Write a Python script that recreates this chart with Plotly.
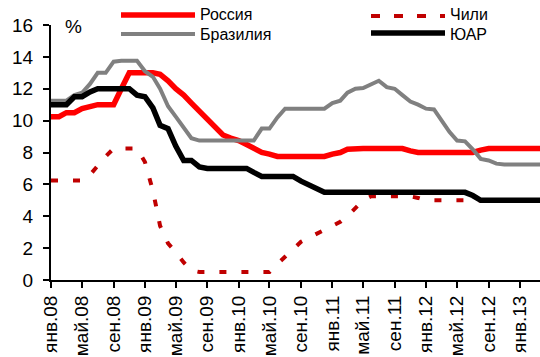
import pandas as pd
import plotly.graph_objects as go

# Monthly policy rates, Jan 2008 - Apr 2013 (%)
months = pd.date_range("2008-01-01", periods=64, freq="MS")

russia = ([10.25, 10.25, 10.5, 10.5, 10.75, 10.9, 11.0, 11.0, 11.0, 12.0]
          + [13.0, 13.0, 13.0, 13.0, 12.9, 12.5, 12.0, 11.6, 11.1, 10.6]
          + [10.0, 9.5, 9.1, 8.9, 8.75, 8.5, 8.25, 8.0, 7.9, 7.75]
          + [7.75] * 6 + [7.9, 8.0, 8.2] + [8.25] * 7 + [8.1]
          + [8.0] * 8 + [8.15] + [8.25] * 8)

chile = ([6.25] * 5 + [6.6, 7.2, 7.75] + [8.25] * 4
         + [7.4, 5.6, 3.4, 2.3, 1.75, 1.1, 0.6] + [0.5] * 10
         + [1.0, 1.45, 1.9, 2.4, 2.65, 2.9, 3.2, 3.4, 3.65, 4.0, 4.5, 5.0]
         + [5.25] * 6 + [5.15] + [5.0] * 16)

brazil = ([11.25, 11.25, 11.25, 11.6, 11.75, 12.3, 13.0, 13.0, 13.7, 13.75]
          + [13.75, 13.75, 13.1, 12.75, 12.0, 10.9, 10.25, 9.6, 8.9]
          + [8.75] * 8 + [9.5, 9.5, 10.2] + [10.75] * 6
          + [11.1, 11.25, 11.75, 12.0, 12.05, 12.25, 12.5, 12.1, 12.0, 11.6,
             11.2, 11.0, 10.75, 10.7, 10.0, 9.3, 8.75, 8.7, 8.2, 7.6, 7.5, 7.3]
          + [7.25] * 6)

south_africa = ([11.0, 11.0, 11.0, 11.5, 11.5, 11.8, 12.0, 12.0, 12.0, 12.0, 12.0]
                + [11.6, 11.5, 10.8, 9.7, 9.5, 8.4, 7.5, 7.5, 7.1]
                + [7.0] * 6 + [6.75] + [6.5] * 5 + [6.2, 6.0, 5.75]
                + [5.5] * 19 + [5.3] + [5.0] * 9)

tick_dates = pd.date_range("2008-01-01", "2013-01-01", freq="4MS")
tick_labels = ["янв.08", "май.08", "сен.08", "янв.09", "май.09", "сен.09",
               "янв.10", "май.10", "сен.10", "янв.11", "май.11", "сен.11",
               "янв.12", "май.12", "сен.12", "янв.13"]

names = ["Россия", "Чили", "Бразилия", "ЮАР"]
series = [russia, chile, brazil, south_africa]
colors = ["#FF0000", "#C00000", "#808080", "#000000"]
widths = [5.5, 4, 4, 5.5]
dashes = ["solid", "7px,15px", "solid", "solid"]

FONT = "Liberation Sans, Arial, sans-serif"
W, H = 540, 357
L, T, B = 51, 25, 77
PW, PH = W - L, H - T - B

fig = go.Figure()
for name, vals, col, w, d in zip(names, series, colors, widths, dashes):
    fig.add_trace(go.Scatter(x=months, y=vals, mode="lines", name=name,
                             line=dict(color=col, width=w, dash=d),
                             showlegend=False))


def px(x, y):
    return (x - L) / PW, (H - B - y) / PH


# Legend: two columns, long line samples
legend_items = [
    (0, 121, 195, 15, 199, 15),   # Россия
    (1, 371, 445, 16, 449, 15),   # Чили
    (2, 121, 195, 34, 199, 34),   # Бразилия
    (3, 371, 445, 33, 449, 34),   # ЮАР
]
shapes = []
annotations = []
for idx, x0, x1, yy, tx, ty in legend_items:
    a0, b0 = px(x0, yy)
    a1, _ = px(x1, yy)
    shapes.append(dict(type="line", xref="paper", yref="paper",
                       x0=a0, x1=a1, y0=b0, y1=b0,
                       line=dict(color=colors[idx], width=widths[idx],
                                 dash="9px,14px" if idx == 1 else "solid")))
    ta, tb = px(tx, ty)
    annotations.append(dict(x=ta, y=tb, xref="paper", yref="paper",
                            text=names[idx], showarrow=False,
                            xanchor="left", yanchor="middle", borderpad=0,
                            font=dict(family=FONT, size=16, color="#000")))

pa, pb = px(73, 27)
annotations.append(dict(x=pa, y=pb, xref="paper", yref="paper", text="%",
                        showarrow=False, xanchor="center", yanchor="middle",
                        font=dict(family=FONT, size=19, color="#000")))

fig.update_layout(
    width=W, height=H,
    margin=dict(l=L, r=0, t=T, b=B, pad=0, autoexpand=False),
    paper_bgcolor="white", plot_bgcolor="white",
    font=dict(family=FONT, color="#000"),
    shapes=shapes, annotations=annotations,
)
fig.update_xaxes(
    type="date", automargin=False,
    range=["2008-01-01", "2013-03-20"],
    tickvals=tick_dates, ticktext=tick_labels,
    tickangle=-90, tickfont=dict(family=FONT, size=19),
    ticks="outside", ticklen=6, tickwidth=1.5, tickcolor="#000",
    showline=True, linecolor="#000", linewidth=2,
    showgrid=False, zeroline=False,
)
fig.update_yaxes(
    automargin=False,
    range=[0, 16], tickvals=list(range(0, 17, 2)),
    tickfont=dict(family=FONT, size=19),
    ticks="outside", ticklen=6, tickwidth=1.5, tickcolor="#000",
    showline=True, linecolor="#000", linewidth=2,
    showgrid=False, zeroline=False, ticklabelstandoff=6,
)

fig.write_html("out.html")
